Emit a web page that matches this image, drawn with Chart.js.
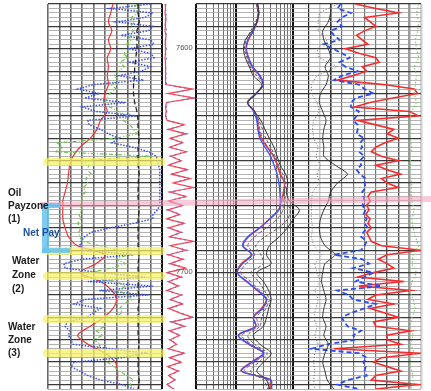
<!DOCTYPE html>
<html>
<head>
<meta charset="utf-8">
<script src="https://cdn.jsdelivr.net/npm/chart.js@4.4.1/dist/chart.umd.min.js"></script>
<style>
  html, body { margin: 0; padding: 0; background: #fff; }
  #wrap { position: relative; width: 431px; height: 391px; overflow: hidden; font-family: "Liberation Sans", Arial, sans-serif; }
  #wrap canvas { position: absolute; top: 0; }
  .lbl { position: absolute; z-index: 3; font-weight: bold; font-size: 10px; line-height: 13px; color: #1b1b1b; white-space: nowrap; }
  .ov { position: absolute; z-index: 2; pointer-events: none; }
  .dlbl { position: absolute; z-index: 3; font-size: 7.5px; line-height: 9px; color: #555; }
</style>
</head>
<body>
<div id="wrap">
  <canvas id="t1" width="163" height="391" style="left:0"></canvas>
  <canvas id="td" width="32" height="391" style="left:163px"></canvas>
  <canvas id="t2" width="113" height="391" style="left:195px"></canvas>
  <canvas id="t3" width="123" height="391" style="left:308px"></canvas>
  <div class="lbl" style="left:8px; top:186px;">Oil<br>Payzone<br>(1)</div>
  <div class="lbl" style="left:23px; top:226px; color:#1f4f9f;">Net Pay</div>
  <div class="lbl" style="left:12px; top:254px; line-height:14px;">Water<br>Zone<br>(2)</div>
  <div class="lbl" style="left:8px; top:320px;">Water<br>Zone<br>(3)</div>
</div>
<script>
// Depth sampling (ft)
const fineDepths = [];
for (let d = 7580; d <= 7752; d += 2) fineDepths.push(d);
const coarseDepths = [];
for (let d = 7580; d <= 7752; d += 4) coarseDepths.push(d);
const depthLabels = [7600, 7700];

// Track 1 (linear 0-10)
const t1Red = [5.7,5.5,5.3,5.6,5.3,5.5,5.2,5.3,5.2,5.3,
  5.0,4.9,5.2,4.6,4.3,3.7,2.8,2.2,1.9,1.8,
  1.7,1.5,1.3,1.3,1.3,1.5,1.8,2.6,5.0,4.2,
  2.8,4.6,5.6,6.0,5.7,4.9,3.7,2.6,3.5,5.0,
  5.9,6.1,6.1,6.1];
const t1Caliper = [7.9,7.9,8.0,7.8,7.8,7.8,7.7,7.6,7.6,7.5,
  7.5,7.6,7.8,7.9,7.9,8.0,7.9,7.9,7.9,8.0,
  7.9,7.9,7.9,8.0,7.9,7.9,7.9,7.9,8.0,7.9,
  7.9,7.9,7.9,8.0,7.9,7.9,7.9,7.9,8.0,7.9,
  7.9,7.9,8.0,7.9];
const t1Blue = [9.0,5.5,9.2,8.5,6.0,9.2,8.8,6.4,9.0,9.3,
  7.0,9.0,9.3,7.2,9.0,8.2,6.2,8.4,4.0,2.6,
  4.5,3.2,6.8,3.0,4.2,7.8,3.5,3.6,4.6,5.3,
  6.2,5.6,7.5,8.8,9.5,9.6,9.7,9.8,9.8,9.8,
  9.8,9.8,9.8,9.8,9.8,9.8,9.6,9.2,9.2,7.5,
  5.5,3.8,3.2,2.9,2.8,3.0,7.5,3.0,1.4,1.5,
  4.6,8.5,3.5,9.2,4.5,8.8,3.2,2.3,4.6,4.0,
  3.4,1.7,1.5,1.9,1.8,2.0,2.2,5.5,8.5,6.5,
  2.3,2.0,2.8,3.5,4.6,6.5,7.5];
const t1Green = [7.8,7.5,7.9,7.3,7.6,7.2,7.5,7.0,7.3,6.9,
  7.2,6.6,7.0,6.3,6.7,6.2,5.8,6.2,5.5,6.0,
  5.4,5.2,5.0,5.4,6.2,7.0,6.6,7.2,7.5,7.8,
  6.0,0.8,1.3,0.6,9.0,3.0,3.6,3.4,3.8,3.3,
  3.5,3.1,3.3,2.9,3.0,2.8,3.0,2.7,2.9,2.6,
  2.9,2.7,2.8,3.0,4.5,6.2,7.0,6.0,6.8,5.5,
  3.6,3.2,6.0,6.8,6.2,7.0,7.4,6.6,6.3,6.5,
  5.8,4.8,5.0,4.2,4.8,4.0,4.6,4.4,5.0,5.6,
  5.2,5.8,6.3,6.9,7.5,7.2,7.6];

// Depth track (linear 0-10)
const tdRed = [0.4,0.5,0.3,0.6,0.4,0.5,0.3,0.7,0.4,0.5,
  0.4,0.6,0.3,0.5,0.4,0.6,0.5,0.4,0.6,9.2,
  1.2,9.7,0.8,0.5,0.7,0.5,1.0,6.5,1.5,7.0,
  2.0,6.0,1.8,7.2,2.2,5.5,1.5,7.5,2.5,8.5,
  3.0,9.5,2.0,7.0,1.5,6.0,1.2,5.0,0.9,6.5,
  1.5,5.5,1.8,9.6,2.0,7.0,1.5,6.0,2.0,7.0,
  1.0,5.5,1.5,4.5,1.0,5.5,2.0,6.0,1.5,5.0,
  9.2,2.5,6.5,1.8,5.0,2.0,4.0,1.5,6.5,1.8,
  5.5,1.2,4.5,1.5,3.5,1.0,3.0];
const tdBlue = [0.6,0.4,0.8,0.5,0.6,0.3,0.9,0.5,0.6,0.4,
  0.7,0.5,0.8,0.4,0.6,0.5,0.7,0.5,0.8,8.8,
  1.5,9.4,1.0,0.7,0.9,0.6,1.2,6.8,1.3,7.4,
  1.8,6.3,1.6,7.0,2.0,5.8,1.3,7.8,2.2,8.2,
  2.8,9.8,1.8,7.3,1.3,6.2,1.0,5.3,0.8,6.8,
  1.3,5.8,1.6,9.4,1.8,7.4,1.3,6.3,1.8,7.3,
  0.8,5.8,1.3,4.8,0.8,5.8,1.8,6.3,1.3,5.3,
  9.5,2.2,6.8,1.6,5.3,1.8,4.3,1.3,6.8,1.6,
  5.8,1.0,4.8,1.3,3.8,0.8,3.3];

// Track 2 (log 0.2-18)
const t2Red = [2.27,2.46,2.35,2.0,1.65,1.51,1.65,1.9,2.6,3.0,
  2.2,1.58,2.1,2.35,2.46,2.77,3.5,4.5,5.2,5.9,
  7.0,6.7,6.2,5.5,3.8,2.6,1.65,1.33,1.85,1.23,
  1.05,1.51,2.35,3.37,2.77,2.0,2.2,1.09,1.65,3.0,
  1.85,1.23,4.1,3.8];
const t2Blue = [2.35,2.5,2.3,2.0,1.6,1.5,1.65,1.95,2.6,3.0,
  2.25,1.6,2.05,2.3,2.4,2.6,3.2,4.0,4.6,5.2,
  5.6,5.8,5.9,5.6,3.9,2.6,1.6,1.3,1.9,1.3,
  1.05,1.55,2.4,3.4,2.9,2.0,2.2,1.1,1.7,3.0,
  1.9,1.25,4.0,4.2];
const t2Purple = [2.3,2.45,2.3,1.95,1.6,1.5,1.6,1.85,2.5,2.9,
  2.2,1.6,2.1,2.4,2.6,2.9,3.6,4.6,5.3,6.0,
  7.0,6.8,6.6,6.6,5.2,3.4,2.1,1.6,2.1,1.5,
  1.2,1.8,2.6,3.5,3.0,2.3,2.4,1.25,1.85,3.2,
  2.1,1.4,3.6,3.7];
const t2Dash = [2.3,2.4,2.2,1.8,1.5,1.4,1.55,1.75,2.3,2.9,
  2.2,1.6,2.1,2.5,2.9,3.3,4.0,4.8,5.5,6.5,
  7.4,7.0,7.4,8.8,8.0,5.5,3.2,2.2,2.7,3.0,
  1.8,2.5,3.1,3.8,3.3,2.8,2.6,1.6,2.1,3.5,
  2.5,1.8,3.0,3.6];
const t2Black = [2.4,2.5,2.3,1.9,1.45,1.35,1.45,1.7,2.0,2.8,
  2.3,1.6,2.1,2.7,3.2,3.8,4.6,5.2,5.9,7.3,
  8.0,7.5,8.6,12.7,10.0,7.9,5.7,3.8,3.4,4.1,
  2.3,3.0,3.7,4.1,3.7,3.4,3.0,2.0,2.6,4.1,
  3.0,2.3,3.4,3.8];
const t2GridTicks = [0.2,0.3,0.4,0.5,0.6,0.7,0.8,0.9,1,2,3,4,5,6,7,8,9,10];

// Track 3 (linear 0-10)
const t3Red = [4.2,6.0,8.0,5.0,5.5,6.0,5.0,4.3,4.8,5.3,
  3.3,4.5,6.0,6.3,4.8,5.2,4.0,2.6,6.7,9.4,
  9.7,7.5,5.5,4.1,9.0,9.8,4.4,6.0,7.6,7.0,
  8.0,6.8,6.0,5.6,6.5,8.0,6.0,7.0,8.2,6.5,
  7.0,8.0,5.6,5.3,5.5,5.2,5.4,5.1,5.5,5.3,
  5.6,5.2,5.4,5.6,6.5,10.0,7.0,6.2,7.0,7.6,
  5.8,4.4,8.5,4.5,9.1,6.0,5.3,7.6,5.5,6.8,
  8.0,5.8,6.0,9.1,7.0,7.0,8.2,2.3,10.0,6.5,
  5.8,7.0,8.2,6.0,5.6,9.7,6.0];
const t3Blue = [2.9,2.6,3.8,3.0,2.6,3.0,2.0,2.3,2.8,1.4,
  2.2,3.0,3.7,2.8,3.3,4.4,3.0,2.3,4.5,5.0,
  5.8,4.2,3.8,3.8,4.5,4.3,4.0,4.4,4.4,4.3,
  5.0,4.6,4.8,4.5,5.0,4.6,4.7,4.3,4.6,5.1,
  5.0,5.1,4.8,4.9,5.0,4.8,5.1,4.9,5.2,5.0,
  5.3,4.9,4.7,5.2,5.0,4.7,2.3,4.8,5.4,4.0,
  5.8,5.0,4.2,6.5,2.6,3.6,4.0,6.0,5.0,3.8,
  3.0,3.2,3.5,4.7,4.0,4.2,1.8,0.3,4.5,5.2,
  4.9,5.1,5.0,5.2,3.5,2.6,4.5];
const t3Black = [2.0,2.0,1.8,1.3,1.4,1.8,2.0,1.5,1.8,1.6,
  1.1,1.0,1.3,1.6,1.4,1.3,1.4,1.4,2.4,3.5,
  2.6,2.0,1.8,1.4,1.1,1.0,1.1,1.5,2.4,1.5,
  1.3,1.2,1.4,1.6,1.4,1.3,1.6,1.4,1.8,1.5,
  1.3,1.5,1.7,2.3];
const t3Dotted = [2.6,1.0,0.9,0.9,1.7,0.8,1.0,2.6,0.8,0.3,
  0.3,0.8,1.0,0.5,0.4,0.5,0.9,0.7,1.1,0.8,
  1.0,0.4,0.3,0.3,0.3,0.4,0.3,0.5,1.2,0.6,
  0.8,1.1,0.6,0.9,0.7,0.5,0.8,0.6,0.9,0.6,
  0.5,0.6,0.5,0.6];
const t3Green = [9.8,9.6,9.8,9.7,9.5,9.6,9.8,9.4,9.6,9.5,
  9.4,9.6,9.2,9.0,9.1,9.0,9.2,9.0,9.1,9.0,
  9.2,9.1,9.2,9.4,9.2,9.3,9.5,9.8,9.3,9.2,
  9.6,9.2,9.0,9.3,9.5,9.2,9.0,9.3,9.1,9.4,
  9.0,9.2,9.3,9.1];

const linTicks = [0,1,2,3,4,5,6,7,8,9,10];

// Interpretation marks (depths, ft)
const yellowDepths = [7650.6, 7690.3, 7701.5, 7720.7, 7735.9];
const oilContactDepth = 7670;
const netPay = [7670, 7690];

function curve(depths, vals, color, width, dash, tension) {
    return {
        data: vals.map((v, i) => ({ x: v, y: depths[i] })),
        showLine: true,
        borderColor: color,
        borderWidth: width,
        borderDash: dash || [],
        pointRadius: 0,
        tension: tension || 0,
        fill: false,
    };
}

function depthAxis() {
    return {
        type: "linear", reverse: true, min: 7580, max: 7752,
        afterBuildTicks: s => { s.ticks = fineDepths.map(v => ({ value: v })); },
        ticks: { display: false },
        border: { display: false },
        grid: {
            drawTicks: false,
            color: c => c.tick.value % 10 === 0 ? "#3a3a3a" : "#a0a0a0",
            lineWidth: c => c.tick.value % 10 === 0 ? 1.3 : 0.8,
        },
    };
}

function valueAxis(type, min, max, ticks, color, width) {
    return {
        type, min, max,
        afterBuildTicks: s => { s.ticks = ticks.map(v => ({ value: v })); },
        ticks: { display: false },
        border: { display: false },
        grid: { drawTicks: false, color, lineWidth: width },
    };
}

function track(id, pad, xAxis, yAxis, datasets) {
    return new Chart(document.getElementById(id), {
        type: "scatter",
        data: { datasets },
        options: {
            responsive: false,
            animation: false,
            events: [],
            devicePixelRatio: 1,
            layout: { padding: pad },
            plugins: { legend: { display: false }, tooltip: { enabled: false } },
            scales: { x: xAxis, y: yAxis },
        },
    });
}

// Track 1
const c1 = track("t1", { left: 48, right: 1, top: 4, bottom: 2 },
    valueAxis("linear", 0, 10, linTicks,
        c => c.tick.value === 10 ? "#111" : "#6a6a6a",
        c => c.tick.value === 10 ? 2.5 : 1.6),
    depthAxis(),
    [
        curve(coarseDepths, t1Caliper, "#222", 1.3, [5, 3]),
        curve(fineDepths, t1Green, "#6cc04a", 1.2, [4, 2, 1, 2]),
        curve(fineDepths, t1Blue, "#3c50e6", 1.5, [1.5, 1.5]),
        curve(coarseDepths, t1Red, "#e8393b", 1.2, [], 0.3),
    ]);

// Depth track
const cd = track("td", { left: 1, right: 0, top: 4, bottom: 2 },
    { type: "linear", min: 0, max: 10, display: false },
    { type: "linear", reverse: true, min: 7580, max: 7752, display: false },
    [
        curve(fineDepths, tdRed, "#ef4a5c", 1.2),
        curve(fineDepths, tdBlue, "#4a5cf0", 1.1, [2, 3]),
    ]);

// Track 2
track("t2", { left: 1, right: 0, top: 4, bottom: 2 },
    valueAxis("logarithmic", 0.2, 18, t2GridTicks,
        c => [0.2, 1, 10].includes(c.tick.value) ? "#111" : "#6a6a6a",
        c => [0.2, 1, 10].includes(c.tick.value) ? 2 : 1),
    depthAxis(),
    [
        curve(coarseDepths, t2Black, "#333", 1, [], 0.3),
        curve(coarseDepths, t2Dash, "#555", 1, [3, 2], 0.3),
        curve(coarseDepths, t2Purple, "#8a4a9a", 1, [4, 2], 0.3),
        curve(coarseDepths, t2Blue, "#3355ff", 1.3, [], 0.3),
        curve(coarseDepths, t2Red, "#e53935", 1.4, [], 0.3),
    ]);

// Track 3
const t3Colors = ["#222", "#c8c8c8", "#333", "#777", "#777", "#777", "#777", "#555", "#555", "#9a9a9a", "#cfcfcf"];
const t3Widths = [2.2, 1.5, 1.6, 1.2, 1.2, 1.2, 1.2, 1.4, 1.4, 2.5, 2.5];
track("t3", { left: 0, right: 10, top: 4, bottom: 2 },
    valueAxis("linear", 0, 10, linTicks,
        c => t3Colors[c.tick.value], c => t3Widths[c.tick.value]),
    depthAxis(),
    [
        curve(coarseDepths, t3Green, "#7cc86a", 1.1, [1.5, 2]),
        curve(coarseDepths, t3Dotted, "#666", 1, [1, 2]),
        curve(coarseDepths, t3Black, "#333", 1, [], 0.2),
        curve(fineDepths, t3Blue, "#2a4df0", 1.8, [5, 3]),
        curve(fineDepths, t3Red, "#f03030", 1.6),
    ]);

// Overlay interpretation marks, placed with the track 1 depth scale
const wrap = document.getElementById("wrap");
const ys = c1.scales.y;
function box(left, top, width, height, style) {
    const d = document.createElement("div");
    d.className = "ov";
    d.style.cssText = `left:${left}px;top:${top}px;width:${width}px;height:${height}px;` + style;
    wrap.appendChild(d);
    return d;
}
yellowDepths.forEach(dep => {
    box(43, ys.getPixelForValue(dep) - 4, 122, 8, "background:rgba(248,242,100,0.72);border-radius:4px;");
});
box(40, ys.getPixelForValue(oilContactDepth) - 3, 400, 6,
    "background:rgba(240,160,185,0.55);transform:rotate(-0.88deg);transform-origin:0 50%;");
const npTop = ys.getPixelForValue(netPay[0]);
const npBot = ys.getPixelForValue(netPay[1]);
const bracket = "background:rgba(105,195,238,0.85);";
box(42, npTop - 2.5, 7, npBot - npTop + 5, bracket);
box(42, npTop - 2.5, 18, 5, bracket);
box(42, npBot - 2.5, 28, 5, bracket);

// Depth labels in the depth track
depthLabels.forEach(dep => {
    const t = document.createElement("div");
    t.className = "dlbl";
    t.textContent = String(dep);
    t.style.left = "176px";
    t.style.top = (cd.scales.y.getPixelForValue(dep) - 5.5) + "px";
    wrap.appendChild(t);
});
</script>
</body>
</html>
